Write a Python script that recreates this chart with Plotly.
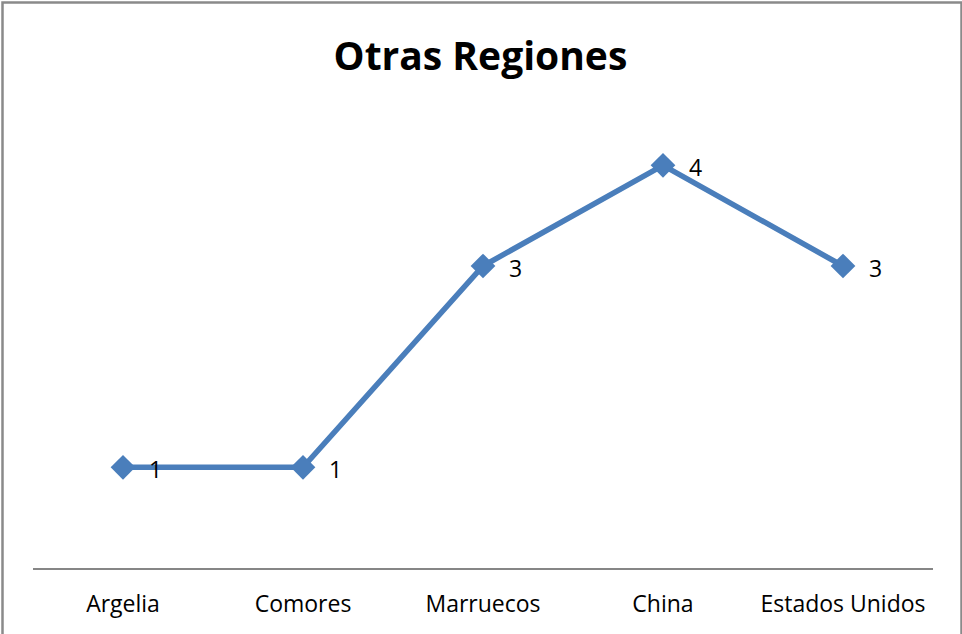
import plotly.graph_objects as go

categories = ["Argelia", "Comores", "Marruecos", "China", "Estados Unidos"]
values = [1, 1, 3, 4, 3]
title_text = "Otras Regiones"

L, R, T, B = 33, 29, 115, 66
W, H = 962, 634
pw, ph = W - L - R, H - T - B
FONT = "Open Sans"

def px(X):
    return (X - L) / pw

def py(Y):
    return (H - B - Y) / ph

fig = go.Figure()
fig.add_trace(go.Scatter(
    x=list(range(len(categories))), y=values,
    mode="lines+markers",
    line=dict(color="#4a7ebb", width=5.5),
    marker=dict(symbol="diamond", size=19, color="#4a7ebb"),
    hoverinfo="skip", showlegend=False,
))
for i, v in enumerate(values):
    fig.add_annotation(x=i, y=v, text=str(v), showarrow=False,
                       xanchor="left", yanchor="middle", xshift=24, yshift=-2,
                       font=dict(family=FONT, size=23, color="#000000"))

fig.add_shape(type="rect", xref="paper", yref="paper",
              x0=px(2.5), x1=px(961.5), y0=py(2.5), y1=py(645),
              line=dict(color="#8a8a8a", width=2.5), layer="below")

fig.update_layout(
    width=W, height=H,
    margin=dict(l=L, r=R, t=T, b=B),
    paper_bgcolor="white", plot_bgcolor="white",
    title=dict(text="<b>" + title_text + "</b>", x=px(482.5), xanchor="center",
               y=1 - 56 / H, yanchor="middle",
               font=dict(family=FONT, size=39, color="#000000")),
    xaxis=dict(range=[-0.5, len(categories) - 0.5], tickvals=list(range(len(categories))),
               ticktext=categories, showgrid=False, zeroline=False,
               showline=True, linecolor="#868686", linewidth=2, ticks="",
               tickfont=dict(family=FONT, size=23, color="#000000"), ticklabelstandoff=14),
    yaxis=dict(range=[0, 4.5], visible=False, showgrid=False, zeroline=False),
)
fig.write_html("out.html", config={"displayModeBar": False},
               post_script="document.body.style.margin='0px';")
